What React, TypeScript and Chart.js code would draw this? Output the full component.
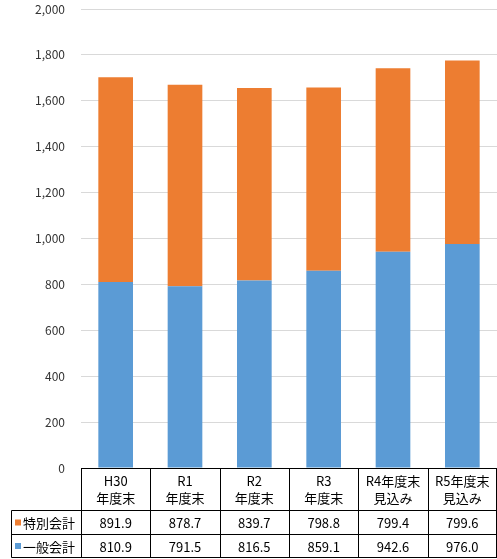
import React, { useEffect, useRef } from "react";
import { Chart, registerables } from "chart.js";

Chart.register(...registerables);

const categories: string[][] = [
  ["H30", "年度末"],
  ["R1", "年度末"],
  ["R2", "年度末"],
  ["R3", "年度末"],
  ["R4年度末", "見込み"],
  ["R5年度末", "見込み"],
];
const specialName = "特別会計";
const generalName = "一般会計";
const specialValues = [891.9, 878.7, 839.7, 798.8, 799.4, 799.6];
const generalValues = [810.9, 791.5, 816.5, 859.1, 942.6, 976.0];
const yTicks = [0, 200, 400, 600, 800, 1000, 1200, 1400, 1600, 1800, 2000];

const ORANGE = "#ED7D31";
const BLUE = "#5B9BD5";
const FONT = '"Noto Sans CJK JP", "Noto Sans", sans-serif';

const tablePlugin = {
  id: "dataTable",
  afterDraw(chart: any) {
    const ctx = chart.ctx as CanvasRenderingContext2D;
    const area = chart.chartArea;
    const x = chart.scales.x;
    const n = categories.length;
    const colW = (area.right - area.left) / n;
    const top = Math.round(area.bottom) + 0.5;
    const r1 = top + 42;
    const r2 = r1 + 24;
    const r3 = r2 + 23;
    const legLeft = 11.5;
    ctx.save();
    ctx.strokeStyle = "#000";
    ctx.lineWidth = 1;
    ctx.beginPath();
    ctx.moveTo(area.left, top);
    ctx.lineTo(area.right, top);
    for (const yy of [r1, r2, r3]) {
      ctx.moveTo(legLeft, yy);
      ctx.lineTo(area.right, yy);
    }
    for (let i = 0; i <= n; i++) {
      const xx = Math.round(area.left + colW * i) + 0.5 - (i === n ? 1 : 0);
      ctx.moveTo(xx, top);
      ctx.lineTo(xx, r3);
    }
    ctx.moveTo(legLeft, r1);
    ctx.lineTo(legLeft, r3);
    ctx.stroke();

    ctx.fillStyle = "#000";
    ctx.textAlign = "center";
    ctx.textBaseline = "middle";
    ctx.font = `13px ${FONT}`;
    for (let i = 0; i < n; i++) {
      const cx = x.getPixelForValue(i);
      ctx.fillText(categories[i][0], cx, top + 13);
      ctx.fillText(categories[i][1], cx, top + 30);
      ctx.fillText(specialValues[i].toFixed(1), cx, (r1 + r2) / 2 + 1);
      ctx.fillText(generalValues[i].toFixed(1), cx, (r2 + r3) / 2 + 1);
    }
    ctx.textAlign = "left";
    const rows: [string, string, number, number][] = [
      [specialName, ORANGE, r1, r2],
      [generalName, BLUE, r2, r3],
    ];
    for (const [name, color, a, b] of rows) {
      const my = (a + b) / 2;
      ctx.fillStyle = color;
      ctx.fillRect(15, my - 3, 6, 6);
      ctx.fillStyle = "#000";
      ctx.fillText(name, 23, my + 1);
    }
    ctx.restore();
  },
};

export default function App() {
  const ref = useRef<HTMLCanvasElement>(null);
  useEffect(() => {
    document.body.style.margin = "0";
    const chart = new Chart(ref.current!, {
      type: "bar",
      data: {
        labels: categories.map((c) => c.join("")),
        datasets: [
          {
            label: generalName,
            data: generalValues,
            backgroundColor: BLUE,
            barPercentage: 0.5,
            categoryPercentage: 1,
          },
          {
            label: specialName,
            data: specialValues,
            backgroundColor: ORANGE,
            barPercentage: 0.5,
            categoryPercentage: 1,
          },
        ],
      },
      options: {
        animation: false,
        responsive: false,
        devicePixelRatio: 1,
        layout: { padding: { top: 9, bottom: 91, left: 0, right: 0 } },
        plugins: { legend: { display: false }, tooltip: { enabled: false } },
        scales: {
          x: { stacked: true, display: false },
          y: {
            stacked: true,
            min: 0,
            max: 2000,
            afterBuildTicks: (s: any) => {
              s.ticks = yTicks.map((v) => ({ value: v }));
            },
            afterFit: (s: any) => {
              s.width = 81;
              s.paddingTop = 0;
              s.paddingBottom = 0;
            },
            border: { display: false },
            grid: { color: "#D9D9D9", drawTicks: false },
            ticks: {
              padding: 16,
              color: "#333333",
              font: { family: FONT, size: 12 },
              callback: (v: any) => Number(v).toLocaleString("en-US"),
            },
          },
        },
      },
      plugins: [tablePlugin],
    });
    return () => chart.destroy();
  }, []);
  return <canvas ref={ref} width={497} height={559} style={{ display: "block" }} />;
}
